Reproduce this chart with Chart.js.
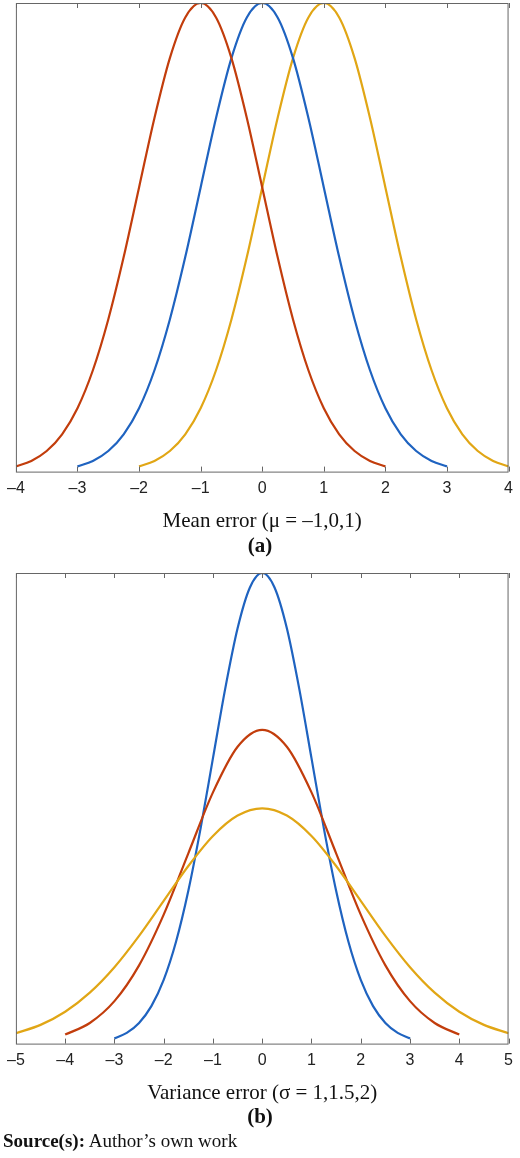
<!DOCTYPE html>
<html><head><meta charset="utf-8">
<script src="https://cdn.jsdelivr.net/npm/chart.js@4"></script>
<style>
body{margin:0;background:#fff;width:520px;height:1158px;position:relative;overflow:hidden}
canvas{position:absolute;left:0}
.lab{position:absolute;font-family:"Liberation Serif",serif;color:#111}
</style></head><body>
<canvas id="c1" width="520" height="534" style="top:0"></canvas>
<div class="lab" style="top:533px;left:0;width:520px;text-align:center;font-size:21px;font-weight:bold">(a)</div>
<canvas id="c3" width="520" height="536" style="top:570px"></canvas>
<div class="lab" style="top:1104px;left:0;width:520px;text-align:center;font-size:21px;font-weight:bold">(b)</div>
<div class="lab" style="top:1130px;left:3px;font-size:19px"><b>Source(s):</b> Author’s own work</div>
<script>
// Panel (a): mean error
const xBlueA = [-3,-2.75,-2.5,-2.25,-2,-1.75,-1.5,-1.25,-1,-0.75,-0.5,-0.25,0,0.25,0.5,0.75,1,1.25,1.5,1.75,2,2.25,2.5,2.75,3];
const xRedA  = [-4,-3.75,-3.5,-3.25,-3,-2.75,-2.5,-2.25,-2,-1.75,-1.5,-1.25,-1,-0.75,-0.5,-0.25,0,0.25,0.5,0.75,1,1.25,1.5,1.75,2];
const xYelA  = [-2,-1.75,-1.5,-1.25,-1,-0.75,-0.5,-0.25,0,0.25,0.5,0.75,1,1.25,1.5,1.75,2,2.25,2.5,2.75,3,3.25,3.5,3.75,4];
const yMeanA = [0.0111,0.0228,0.0439,0.0796,0.1353,0.2163,0.3247,0.4578,0.6065,0.7548,0.8825,0.9692,1,0.9692,0.8825,0.7548,0.6065,0.4578,0.3247,0.2163,0.1353,0.0796,0.0439,0.0228,0.0111];
const ticksA = [-4,-3,-2,-1,0,1,2,3,4];
// Panel (b): variance error
const xS1 = xBlueA;
const yS1 = yMeanA;
const xS15 = [-4,-3.5,-3,-2.5,-2,-1.5,-1,-0.5,0,0.5,1,1.5,2,2.5,3,3.5,4];
const yS15 = [0.0191,0.0438,0.0902,0.1663,0.2741,0.4044,0.5338,0.6307,0.6667,0.6307,0.5338,0.4044,0.2741,0.1663,0.0902,0.0438,0.0191];
const xS2 = [-5,-4.5,-4,-3.5,-3,-2.5,-2,-1.5,-1,-0.5,0,0.5,1,1.5,2,2.5,3,3.5,4,4.5,5];
const yS2 = [0.0220,0.0398,0.0677,0.1082,0.1623,0.2289,0.3033,0.3774,0.4412,0.4846,0.5,0.4846,0.4412,0.3774,0.3033,0.2289,0.1623,0.1082,0.0677,0.0398,0.0220];
const ticksB = [-5,-4,-3,-2,-1,0,1,2,3,4,5];

const BLUE='#1f63c0', RED='#c23d0c', YEL='#e1a615';
const pts=(xs,ys)=>xs.map((x,i)=>({x,y:ys[i]}));
const ds=(xs,ys,c)=>({data:pts(xs,ys),borderColor:c,borderWidth:2.2,pointRadius:0,cubicInterpolationMode:'monotone',fill:false});

const frame={id:'frame',afterDraw(ch){
  const a=ch.chartArea,ctx=ch.ctx,sx=ch.scales.x;
  ctx.save();ctx.strokeStyle='#666';ctx.lineWidth=1;
  ctx.strokeRect(a.left+0.5,a.top+0.5,a.right-a.left-1,a.bottom-a.top);
  sx.ticks.forEach(t=>{const p=Math.round(sx.getPixelForValue(t.value))+0.5;
    ctx.beginPath();ctx.moveTo(p,a.bottom);ctx.lineTo(p,a.bottom-5);
    ctx.moveTo(p,a.top);ctx.lineTo(p,a.top+5);ctx.stroke();});
  ctx.restore();}};

function make(id,datasets,ticks,title){
  new Chart(document.getElementById(id),{type:'line',data:{datasets},
    options:{responsive:false,animation:false,
      layout:{padding:{left:13,right:7,top:3,bottom:0}},
      plugins:{legend:{display:false},tooltip:{enabled:false}},
      scales:{
        x:{type:'linear',min:ticks[0],max:ticks[ticks.length-1],
          afterBuildTicks(s){s.ticks=ticks.map(v=>({value:v}));},
          grid:{display:false,drawTicks:false},border:{display:false},
          ticks:{padding:7,maxRotation:0,color:'#222',font:{family:'Liberation Sans',size:16},
            callback:v=>String(v).replace('-','–')},
          title:{display:true,text:title,color:'#111',padding:{top:4,bottom:0},font:{family:'Liberation Serif',size:21}}},
        y:{display:false,min:0,max:1}}},
    plugins:[frame]});
}
make('c1',[ds(xRedA,yMeanA,RED),ds(xBlueA,yMeanA,BLUE),ds(xYelA,yMeanA,YEL)],ticksA,'Mean error (μ = –1,0,1)');
make('c3',[ds(xS2,yS2,YEL),ds(xS15,yS15,RED),ds(xS1,yS1,BLUE)],ticksB,'Variance error (σ = 1,1.5,2)');
</script></body></html>
